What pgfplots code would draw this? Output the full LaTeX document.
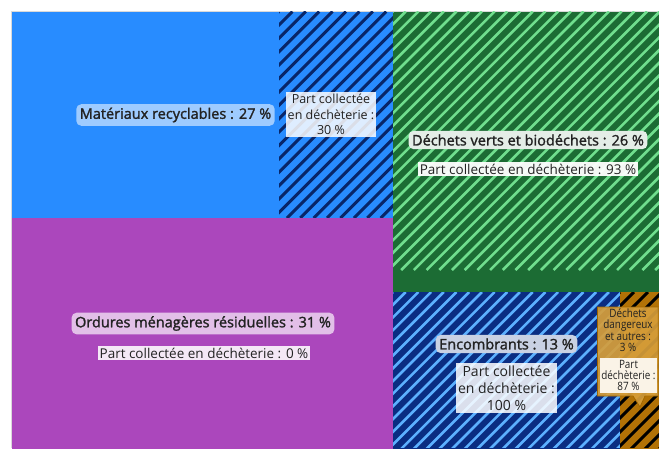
\documentclass[border=0pt]{standalone}
\usepackage{pgfplots}
\pgfplotsset{compat=1.18}
\usepackage{fontspec}
\setmainfont{Open Sans}
\newfontfamily\sbfont{Open Sans}[FakeBold=1.6]
\newfontfamily\condfont{Open Sans}[FakeStretch=0.86]
\definecolor{blueM}{RGB}{40,140,255}
\definecolor{navyH}{RGB}{8,38,105}
\definecolor{purpleO}{RGB}{171,71,188}
\definecolor{greenD}{RGB}{28,108,52}
\definecolor{greenL}{RGB}{112,222,142}
\definecolor{navyE}{RGB}{10,45,130}
\definecolor{blueL}{RGB}{92,176,255}
\definecolor{brownD}{RGB}{178,114,6}
\definecolor{callF}{RGB}{214,158,58}
\definecolor{callB}{RGB}{160,102,0}
\definecolor{txt}{RGB}{34,34,34}
\begin{document}
\begin{tikzpicture}
\begin{axis}[
  width=659pt, height=448pt, scale only axis,
  xmin=0, xmax=659, ymin=0, ymax=448, y dir=reverse,
  hide axis, clip=true,
]
% background
\addplot[fill=white, draw=none] coordinates {(0,0) (670,0) (670,460) (0,460)} -- cycle;
\addplot[draw=black!15, line width=0.8pt] coordinates {(11.5,460) (11.5,11) (670,11)};
% Materiaux recyclables (27 %), 30 % collected in dechetterie (hatched)
\addplot[fill=blueM, draw=none] coordinates {(12,11.5) (393,11.5) (393,218) (12,218)} -- cycle;
\begin{scope}
\clip (axis cs:279,11.5) rectangle (axis cs:393,218);
\pgfplotsinvokeforeach{0,...,25}{\draw[navyH, line width=3pt] (axis cs:{279+11.5+#1*13.4-218},218) -- (axis cs:{279+#1*13.4},11.5);}
\end{scope}
% Ordures menageres residuelles (31 %)
\addplot[fill=purpleO, draw=none] coordinates {(12,218) (393,218) (393,460) (12,460)} -- cycle;
% Dechets verts (26 %), 93 % hatched
\addplot[fill=greenD, draw=none] coordinates {(393,11.5) (670,11.5) (670,292) (393,292)} -- cycle;
\begin{scope}
\clip (axis cs:393,11.5) rectangle (axis cs:670,270);
\pgfplotsinvokeforeach{0,...,43}{\draw[greenL, line width=2.6pt] (axis cs:{393+11.5+#1*12.7-270},270) -- (axis cs:{393+#1*12.7},11.5);}
\end{scope}
% Encombrants (13 %), 100 % hatched
\addplot[fill=navyE, draw=none] coordinates {(393,292) (620,292) (620,460) (393,460)} -- cycle;
\begin{scope}
\clip (axis cs:393,292) rectangle (axis cs:620,460);
\pgfplotsinvokeforeach{0,...,32}{\draw[blueL, line width=2.6pt] (axis cs:{393+292+#1*12.7-460},460) -- (axis cs:{393+#1*12.7},292);}
\end{scope}
% Dechets dangereux (3 %), 87 % hatched
\addplot[fill=brownD, draw=none] coordinates {(620,292) (670,292) (670,460) (620,460)} -- cycle;
\begin{scope}
\clip (axis cs:620,292) rectangle (axis cs:670,460);
\pgfplotsinvokeforeach{0,...,16}{\draw[black, line width=3pt] (axis cs:{620+292+#1*14-460},460) -- (axis cs:{620+#1*14},292);}
\end{scope}

% labels
\node[fill=blueM!45!white, rounded corners=5pt, inner sep=3.5pt, text=txt, font=\sbfont\fontsize{14.5}{16}\selectfont] at (axis cs:175.5,115) {Matériaux recyclables : 27 \%};
\node[fill=white, fill opacity=0.85, text opacity=1, inner sep=2pt, text=txt, align=center, font=\fontsize{12.5}{15.5}\selectfont] at (axis cs:331,114.5) {Part collectée\\en déchèterie :\\30 \%};

\node[fill=greenD!12!white, rounded corners=5pt, inner sep=3.5pt, text=txt, font=\sbfont\fontsize{14.5}{16}\selectfont] at (axis cs:528,140) {Déchets verts et biodéchets : 26 \%};
\node[fill=white, fill opacity=0.95, text opacity=1, inner sep=1.5pt, text=txt, font=\fontsize{13.5}{15}\selectfont] at (axis cs:528,169) {Part collectée en déchèterie : 93 \%};

\node[fill=purpleO!35!white, rounded corners=5pt, inner sep=3.5pt, text=txt, font=\sbfont\fontsize{14.5}{16}\selectfont] at (axis cs:203,323.5) {Ordures ménagères résiduelles : 31 \%};
\node[fill=white, fill opacity=0.88, text opacity=1, inner sep=1.5pt, text=txt, font=\fontsize{13.5}{15}\selectfont] at (axis cs:204,353) {Part collectée en déchèterie : 0 \%};

\node[fill=navyE!22!white, rounded corners=5pt, inner sep=3.5pt, text=txt, font=\sbfont\fontsize{14.5}{16}\selectfont] at (axis cs:506.5,344) {Encombrants : 13 \%};
\node[fill=white, fill opacity=0.85, text opacity=1, inner sep=2.5pt, text=txt, align=center, font=\fontsize{14}{17}\selectfont] at (axis cs:506.5,388) {Part collectée\\en déchèterie :\\100 \%};

% callout for dechets dangereux
\fill[callF, fill opacity=0.92] (axis cs:597.5,307) -- (axis cs:660,307) -- (axis cs:660,396) -- (axis cs:645,396) -- (axis cs:640,407) -- (axis cs:633,396) -- (axis cs:597.5,396) -- cycle;
\draw[callB, line width=0.8pt] (axis cs:597.5,307) -- (axis cs:658.3,307) -- (axis cs:658.3,396) -- (axis cs:645,396) -- (axis cs:640,407) -- (axis cs:633,396) -- (axis cs:597.5,396) -- cycle;
\node[text=txt, align=center, inner sep=0pt, font=\condfont\fontsize{11.5}{11.3}\selectfont] at (axis cs:628,330) {Déchets\\dangereux\\et autres :\\3 \%};
\node[fill=white!88!callF, minimum width=57pt, minimum height=35pt, inner sep=0pt, text=txt, align=center, font=\condfont\fontsize{11.5}{11}\selectfont] at (axis cs:628.5,375.5) {Part\\déchèterie :\\87 \%};
\end{axis}
% edge frame in the colours of the adjoining areas (keeps the page at the axis size)
\draw[white, line width=1pt] (0,0) -- (0,448pt) -- (659pt,448pt);
\draw[greenD, line width=1pt] (659pt,448pt) -- (659pt,156pt);
\draw[brownD, line width=1pt] (659pt,156pt) -- (659pt,0pt) -- (620pt,0pt);
\draw[navyE, line width=1pt] (620pt,0pt) -- (393pt,0pt);
\draw[purpleO, line width=1pt] (393pt,0pt) -- (12pt,0pt);
\draw[white, line width=1pt] (12pt,0pt) -- (0pt,0pt);
\pgfresetboundingbox
\path[use as bounding box] (current axis.south west) rectangle (current axis.north east);
\end{tikzpicture}
\end{document}
